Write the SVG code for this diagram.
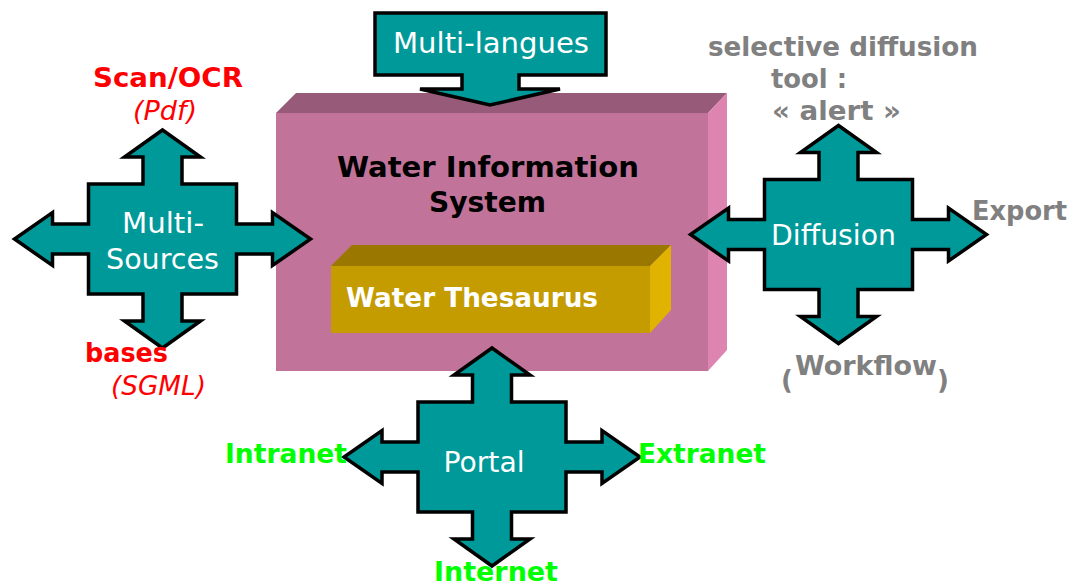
<svg xmlns="http://www.w3.org/2000/svg" width="1072" height="585" viewBox="0 0 1072 585">
<style>
.shape{fill:#009999;stroke:#000;stroke-width:3.5;stroke-linejoin:miter}
.in{font-family:"DejaVu Sans",Verdana,sans-serif;font-size:28.5px;fill:#fff}
.lbl{font-family:"DejaVu Sans",Verdana,sans-serif;font-size:26px;font-weight:bold}
.red{fill:#ff0000}
.ital{font-weight:normal;font-style:italic}
.grey{fill:#808080}
.green{fill:#00ff00}
.ttl{font-family:"DejaVu Sans",Verdana,sans-serif;font-size:29px;font-weight:bold;fill:#000}
</style>
<defs>
<path id="cross" d="M0,-109 L38,-82 L19.5,-82 L19.5,-55 L74,-55 L74,-15 L110,-15 L110,-26.5 L148,0 L110,26.5 L110,15 L74,15 L74,55 L19.5,55 L19.5,82 L38,82 L0,109 L-38,82 L-19.5,82 L-19.5,55 L-74,55 L-74,15 L-110,15 L-110,26.5 L-148,0 L-110,-26.5 L-110,-15 L-74,-15 L-74,-55 L-19.5,-55 L-19.5,-82 L-38,-82 Z"/>
</defs>
<rect width="1072" height="585" fill="#fff"/>

<g id="wis">
<polygon points="276,113 296,93 727,93 708,113" fill="#985A79"/>
<polygon points="708,113 727,93 727,350 708,371" fill="#DE84B0"/>
<rect x="276" y="113" width="432" height="258" fill="#C27399"/>
<text class="ttl" x="337" y="177" textLength="302" lengthAdjust="spacingAndGlyphs">Water Information</text>
<text class="ttl" x="429" y="212" textLength="117" lengthAdjust="spacingAndGlyphs">System</text>
</g>

<g id="thesaurus">
<polygon points="331,266 352,245 671,245 650,266" fill="#9A7800"/>
<polygon points="650,266 671,245 671,310 650,333" fill="#E0B300"/>
<rect x="331" y="266" width="319" height="67" fill="#C49C00"/>
<text x="346" y="307" font-family="DejaVu Sans,Verdana,sans-serif" font-size="26" font-weight="bold" fill="#fff" textLength="252" lengthAdjust="spacingAndGlyphs">Water Thesaurus</text>
</g>

<g id="multi-langues">
<path class="shape" d="M375,13 L606,13 L606,75 L519,75 L519,89 L560,89 L490,105 L420,89 L462,89 L462,75 L375,75 Z"/>
<text class="in" x="393" y="53" textLength="196" lengthAdjust="spacingAndGlyphs">Multi-langues</text>
</g>

<g id="multi-sources">
<use href="#cross" class="shape" x="162.5" y="239"/>
<text class="in" x="122" y="233" textLength="82" lengthAdjust="spacingAndGlyphs">Multi-</text>
<text class="in" x="106" y="269" textLength="113" lengthAdjust="spacingAndGlyphs">Sources</text>
</g>

<g id="diffusion">
<use href="#cross" class="shape" x="838.5" y="234.5"/>
<text class="in" x="771" y="245" textLength="125" lengthAdjust="spacingAndGlyphs">Diffusion</text>
</g>

<g id="portal">
<use href="#cross" class="shape" x="492" y="457"/>
<text class="in" x="443.5" y="472" textLength="81" lengthAdjust="spacingAndGlyphs">Portal</text>
</g>

<g id="labels">
<text class="lbl red" x="93" y="87" textLength="150" lengthAdjust="spacingAndGlyphs">Scan/OCR</text>
<text class="lbl red ital" x="133" y="120" textLength="64" lengthAdjust="spacingAndGlyphs">(Pdf)</text>
<text class="lbl red" x="85" y="362" textLength="83" lengthAdjust="spacingAndGlyphs">bases</text>
<text class="lbl red ital" x="111" y="395" textLength="95" lengthAdjust="spacingAndGlyphs">(SGML)</text>
<text class="lbl grey" x="708" y="56" textLength="270" lengthAdjust="spacingAndGlyphs">selective diffusion</text>
<text class="lbl grey" x="771" y="88" textLength="76" lengthAdjust="spacingAndGlyphs">tool :</text>
<text class="lbl grey" x="772" y="120" textLength="129" lengthAdjust="spacingAndGlyphs">« alert »</text>
<text class="lbl grey" x="972" y="220" textLength="95" lengthAdjust="spacingAndGlyphs">Export</text>
<text class="lbl grey" x="795" y="375" textLength="142" lengthAdjust="spacingAndGlyphs">Workflow</text>
<text class="lbl grey" x="781" y="389">(</text>
<text class="lbl grey" x="937" y="389">)</text>
<text class="lbl green" x="225" y="463" textLength="122" lengthAdjust="spacingAndGlyphs">Intranet</text>
<text class="lbl green" x="638" y="463" textLength="128" lengthAdjust="spacingAndGlyphs">Extranet</text>
<text class="lbl green" x="434" y="581" textLength="124" lengthAdjust="spacingAndGlyphs">Internet</text>
</g>
</svg>
